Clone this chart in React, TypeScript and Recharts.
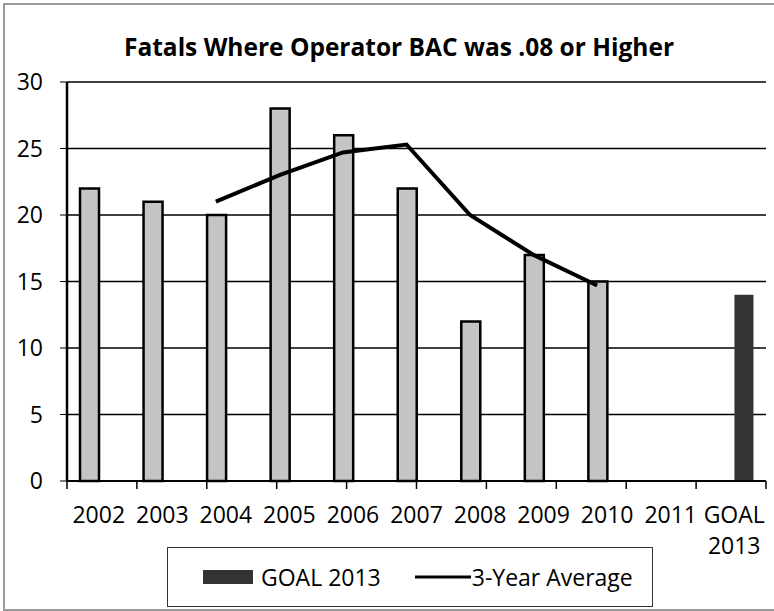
import { Bar, CartesianGrid, ComposedChart, Legend, Line, XAxis, YAxis } from "recharts";

const categories = ["2002", "2003", "2004", "2005", "2006", "2007", "2008", "2009", "2010", "2011", "GOAL 2013"];
const fatals = [22, 21, 20, 28, 26, 22, 12, 17, 15, null, null];
const goal2013 = [null, null, null, null, null, null, null, null, null, null, 14];
const threeYearAvg = [null, null, 21, 23, 24.7, 25.3, 20, 17, 14.7, null, null];
const yTicks = [0, 5, 10, 15, 20, 25, 30];
const edgeTicks = [0, 1, 2, 3, 4, 5, 6, 7, 8, 9, 10, 11];

const data = categories.map((name, i) => ({
  name,
  fatals: fatals[i],
  goal: goal2013[i],
  avg: threeYearAvg[i],
}));

const FONT = "'Open Sans', sans-serif";

function CategoryTick(props: any) {
  const { x, y, payload } = props;
  const lines = String(payload.value).split(" ");
  return (
    <text x={x} y={y} textAnchor="middle" fontFamily={FONT} fontSize={23} fill="#000">
      {lines.map((line, i) => (
        <tspan key={i} x={x} dy={i === 0 ? 24 : 31}>
          {line}
        </tspan>
      ))}
    </text>
  );
}

function LegendBox(props: any) {
  const items = (props.payload || [])
    .filter((p: any) => p.type !== "none")
    .sort((a: any, b: any) => (a.type === "line" ? 1 : 0) - (b.type === "line" ? 1 : 0));
  return (
    <div
      style={{
        display: "flex",
        alignItems: "center",
        height: "100%",
        paddingLeft: 35,
        fontFamily: FONT,
        fontSize: 23,
        color: "#000",
        whiteSpace: "nowrap",
      }}
    >
      {items.map((item: any) => (
        <div key={item.value} style={{ display: "flex", alignItems: "center", marginRight: 34, flexShrink: 0 }}>
          {item.type === "line" ? (
            <svg width={56} height={14} style={{ marginRight: 1 }}>
              <line x1={0} y1={7} x2={56} y2={7} stroke={item.color} strokeWidth={3} />
            </svg>
          ) : (
            <svg width={50} height={14} style={{ marginRight: 8 }}>
              <rect x={0} y={0} width={50} height={14} fill={item.color} />
            </svg>
          )}
          <span>{item.value}</span>
        </div>
      ))}
    </div>
  );
}

export default function App() {
  return (
    <div style={{ position: "absolute", left: 0, top: 0, width: 774, height: 611, background: "#fff" }}>
      <div
        style={{
          position: "absolute",
          left: 3,
          top: 3,
          width: 780,
          height: 604,
          borderLeft: "2px solid #9a9a9a",
          borderTop: "2px solid #9a9a9a",
          borderBottom: "2px solid #9a9a9a",
        }}
      />
      <svg width={774} height={70} style={{ position: "absolute", left: 0, top: 0 }}>
        <text x={399} y={56} textAnchor="middle" fontFamily={FONT} fontWeight={700} fontSize={24.5} fill="#000">
          Fatals Where Operator BAC was .08 or Higher
        </text>
      </svg>
      <div style={{ position: "absolute", left: 0, top: 0 }}>
        <ComposedChart width={774} height={611} data={data} margin={{ top: 82, right: 8, left: 0, bottom: 0 }} barGap={0}>
          <CartesianGrid xAxisId="cat" yAxisId="left" vertical={false} stroke="#000" strokeWidth={1.5} />
          <XAxis
            xAxisId="boundary"
            type="number"
            domain={[0, 11]}
            ticks={edgeTicks}
            allowDataOverflow
            tickFormatter={() => ""}
            height={10}
            tickSize={8}
            axisLine={{ stroke: "#000", strokeWidth: 2 }}
            tickLine={{ stroke: "#000", strokeWidth: 1.5 }}
          />
          <XAxis
            xAxisId="cat"
            dataKey="name"
            interval={0}
            height={60}
            axisLine={false}
            tickLine={false}
            tick={<CategoryTick />}
          />
          <XAxis xAxisId="line" dataKey="name" hide padding={{ left: -10, right: 10 }} />
          <YAxis
            yAxisId="left"
            domain={[0, 30]}
            ticks={yTicks}
            width={67}
            tickSize={7}
            tickMargin={17}
            axisLine={{ stroke: "#000", strokeWidth: 2.5 }}
            tickLine={{ stroke: "#000" }}
            tick={{ fontFamily: FONT, fontSize: 23, fill: "#000" }}
          />
          <YAxis
            yAxisId="right"
            orientation="right"
            domain={[0, 30]}
            width={0}
            tick={false}
            axisLine={{ stroke: "#000", strokeWidth: 2 }}
          />
          <Bar
            xAxisId="cat"
            yAxisId="left"
            dataKey="fatals"
            name=""
            legendType="none"
            barSize={19}
            fill="#c4c4c4"
            stroke="#000"
            strokeWidth={2.5}
            isAnimationActive={false}
          />
          <Bar
            xAxisId="cat"
            yAxisId="left"
            dataKey="goal"
            name="GOAL 2013"
            barSize={19}
            fill="#333333"
            isAnimationActive={false}
          />
          <Line
            xAxisId="line"
            yAxisId="left"
            dataKey="avg"
            name="3-Year Average"
            type="linear"
            stroke="#000"
            strokeWidth={4}
            dot={false}
            legendType="line"
            isAnimationActive={false}
          />
          <Legend
            verticalAlign="bottom"
            content={<LegendBox />}
            wrapperStyle={{
              position: "absolute",
              left: 167,
              top: 547,
              bottom: "auto",
              width: 486,
              height: 60,
              boxSizing: "border-box",
              border: "1.5px solid #333",
              background: "#fff",
            }}
          />
        </ComposedChart>
      </div>
    </div>
  );
}
